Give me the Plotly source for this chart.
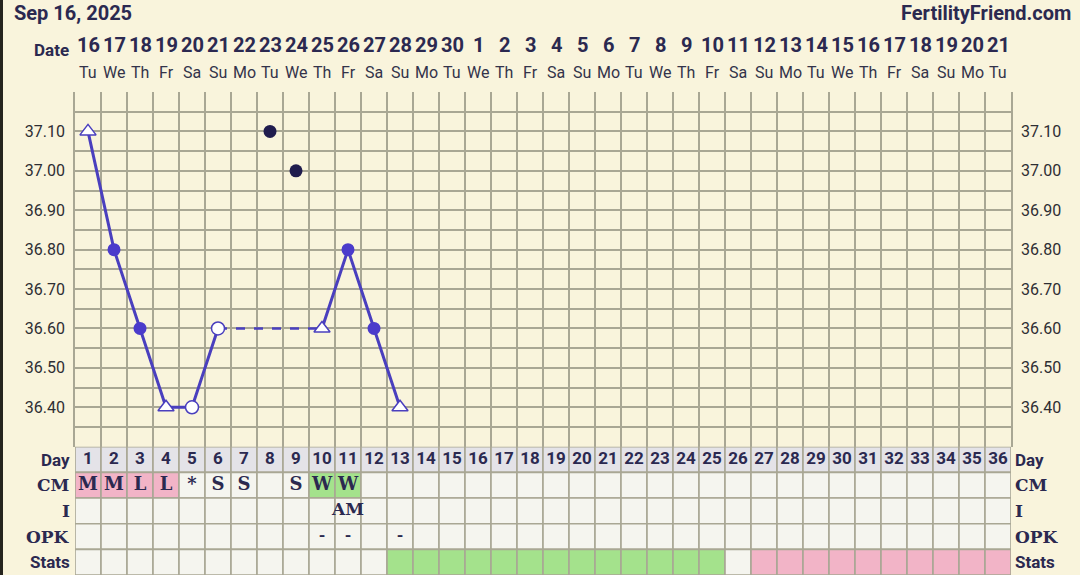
import plotly.graph_objects as go

W, H = 1080, 575

# ---------------- data ----------------
cycle_days = list(range(1, 37))
date_nums = ["16", "17", "18", "19", "20", "21", "22", "23", "24", "25", "26", "27",
             "28", "29", "30", "1", "2", "3", "4", "5", "6", "7", "8", "9", "10",
             "11", "12", "13", "14", "15", "16", "17", "18", "19", "20", "21"]
weekdays = ["Tu", "We", "Th", "Fr", "Sa", "Su", "Mo", "Tu", "We", "Th", "Fr", "Sa",
            "Su", "Mo", "Tu", "We", "Th", "Fr", "Sa", "Su", "Mo", "Tu", "We", "Th",
            "Fr", "Sa", "Su", "Mo", "Tu", "We", "Th", "Fr", "Sa", "Su", "Mo", "Tu"]

temp_days = [1, 2, 3, 4, 5, 6, 7, 8, 9, 10, 11, 12, 13]
temps = [37.10, 36.80, 36.60, 36.40, 36.40, 36.60, None, 37.10, 37.00, 36.60, 36.80, 36.60, 36.40]
temp_kind = ["open_tri", "filled", "filled", "open_tri", "open_circle", "open_circle", None,
             "discard", "discard", "open_tri", "filled", "filled", "open_tri"]

cm_codes = ["M", "M", "L", "L", "*", "S", "S", "", "S", "W", "W"] + [""] * 25
i_codes = [""] * 10 + ["AM"] + [""] * 25
opk_codes = [""] * 9 + ["-", "-", "", "-"] + [""] * 23
stats_codes = [""] * 12 + ["G"] * 13 + [""] + ["P"] * 10

y_tick_vals = [36.35, 36.40, 36.45, 36.50, 36.55, 36.60, 36.65, 36.70, 36.75, 36.80,
               36.85, 36.90, 36.95, 37.00, 37.05, 37.10, 37.15]
y_label_vals = [36.40, 36.50, 36.60, 36.70, 36.80, 36.90, 37.00, 37.10]
y_label_text = ["36.40", "36.50", "36.60", "36.70", "36.80", "36.90", "37.00", "37.10"]

# ---------------- style ----------------
BG = "#f9f4dc"
GRID = "#a9a794"
LINE = "#4a3fbe"
MARK = "#4b3bcb"
DISCARD = "#201c4e"
NAVY = "#2b2950"
TXT = "#33334a"
CELL = "#f5f5ef"
DAYROW = "#e4e3e8"
PINK = "#f2b4c7"
GREEN = "#a4e28c"
SANS = "Roboto"
SERIF = "DejaVu Serif"

X_DOM = [75 / W, 1011 / W]
SPLIT = 1 - 446.7 / H
T_DOM = [SPLIT, 1 - 92 / H]
TBL_DOM = [0, SPLIT]

fig = go.Figure()

# ---------------- temperature line ----------------
conn = [(d, t) for d, t, k in zip(temp_days, temps, temp_kind)
        if t is not None and k != "discard"]
solid_x, solid_y, dash_x, dash_y = [], [], [], []
run_x, run_y = [conn[0][0]], [conn[0][1]]
for (d0, t0), (d1, t1) in zip(conn[:-1], conn[1:]):
    if d1 - d0 == 1:
        run_x.append(d1)
        run_y.append(t1)
    else:
        solid_x += run_x + [None]
        solid_y += run_y + [None]
        dash_x += [d0, d1, None]
        dash_y += [t0, t1, None]
        run_x, run_y = [d1], [t1]
solid_x += run_x
solid_y += run_y

fig.add_trace(go.Scatter(x=dash_x, y=dash_y, mode="lines",
                         line=dict(color=LINE, width=2.5, dash="dash"),
                         hoverinfo="skip", showlegend=False))
fig.add_trace(go.Scatter(x=solid_x, y=solid_y, mode="lines",
                         line=dict(color=LINE, width=3),
                         hoverinfo="skip", showlegend=False))

styles = {
    "filled": dict(symbol="circle", size=13, color=MARK, line=dict(color=MARK, width=0)),
    "open_circle": dict(symbol="circle", size=13, color="white", line=dict(color=LINE, width=1.5)),
    "open_tri": dict(symbol="triangle-up", size=14, color="white", line=dict(color=LINE, width=1.5)),
    "discard": dict(symbol="circle", size=13, color=DISCARD, line=dict(color=DISCARD, width=0)),
}
for kind, st in styles.items():
    xs = [d for d, t, k in zip(temp_days, temps, temp_kind) if k == kind]
    ys = [t for d, t, k in zip(temp_days, temps, temp_kind) if k == kind]
    fig.add_trace(go.Scatter(x=xs, y=ys, mode="markers", marker=st,
                             hoverinfo="skip", showlegend=False))

# right axis carrier
fig.add_trace(go.Scatter(x=[None], y=[None], yaxis="y3", showlegend=False, hoverinfo="skip"))

# ---------------- table ----------------
rows = [("Day", 4, [str(d) for d in cycle_days], SANS, 17),
        ("CM", 3, cm_codes, SERIF, 18),
        ("I", 2, i_codes, SERIF, 17),
        ("OPK", 1, opk_codes, SANS, 17),
        ("Stats", 0, stats_codes, SANS, 16)]
fill_map = {"M": PINK, "L": PINK, "W": GREEN, "G": GREEN, "P": PINK}

shapes = []
for name, y0, codes, fam, fs in rows:
    for d, c in zip(cycle_days, codes):
        if name == "Day":
            fc = DAYROW
        elif name in ("CM", "Stats"):
            fc = fill_map.get(c, CELL)
        else:
            fc = CELL
        shapes.append(dict(type="rect", xref="x", yref="y2", x0=d - 0.5, x1=d + 0.5,
                           y0=y0, y1=y0 + 1, fillcolor=fc,
                           line=dict(color=GRID, width=1.6), layer="between"))
    if name != "Stats":
        fig.add_trace(go.Scatter(
            x=cycle_days, y=[y0 + 0.5] * len(cycle_days), yaxis="y2",
            text=codes, mode="text",
            textfont=dict(family=fam, size=fs, color=NAVY, weight="bold"),
            hoverinfo="skip", showlegend=False))

# dark strip at left edge
shapes.append(dict(type="rect", xref="paper", yref="paper", x0=0, x1=3 / W, y0=0, y1=1,
                   fillcolor="#25241e", line=dict(width=0), layer="above"))

annotations = []
label_fonts = {"Day": (SANS, 17), "CM": (SERIF, 17), "I": (SERIF, 17),
               "OPK": (SERIF, 17), "Stats": (SANS, 17)}
for name, y0, codes, fam, fs in rows:
    lf, ls = label_fonts[name]
    annotations.append(dict(text="<b>%s</b>" % name, xref="paper", yref="y2",
                            x=72 / W, y=y0 + 0.5, xanchor="right", yanchor="middle",
                            showarrow=False, font=dict(family=lf, size=ls, color=NAVY)))
    annotations.append(dict(text="<b>%s</b>" % name, xref="paper", yref="y2",
                            x=1013 / W, y=y0 + 0.5, xanchor="left", yanchor="middle",
                            showarrow=False, font=dict(family=lf, size=ls, color=NAVY)))

# date header
for d, n, wd in zip(cycle_days, date_nums, weekdays):
    annotations.append(dict(text="<b>%s</b>" % n, xref="x", yref="paper", x=d,
                            y=1 - 45 / H, xanchor="center", yanchor="middle",
                            showarrow=False, font=dict(family=SANS, size=20, color=NAVY)))
    annotations.append(dict(text=wd, xref="x", yref="paper", x=d,
                            y=1 - 72 / H, xanchor="center", yanchor="middle",
                            showarrow=False, font=dict(family=SANS, size=16, color=TXT)))
annotations.append(dict(text="<b>Date</b>", xref="paper", yref="paper", x=71 / W,
                        y=1 - 50 / H, xanchor="right", yanchor="middle", showarrow=False,
                        font=dict(family=SANS, size=17, color=NAVY)))
annotations.append(dict(text="<b>Sep 16, 2025</b>", xref="paper", yref="paper", x=12 / W,
                        y=1 - 13 / H, xanchor="left", yanchor="middle", showarrow=False,
                        font=dict(family=SANS, size=20, color=NAVY)))
annotations.append(dict(text="<b>FertilityFriend.com</b>", xref="paper", yref="paper",
                        x=1073 / W, y=1 - 13 / H, xanchor="right", yanchor="middle",
                        showarrow=False, font=dict(family=SANS, size=20, color=NAVY)))

y_text = [("%.2f" % v) if any(abs(v - u) < 1e-9 for u in y_label_vals) else ""
          for v in y_tick_vals]

fig.update_layout(
    width=W, height=575, autosize=False,
    margin=dict(l=0, r=0, t=0, b=0, pad=0),
    paper_bgcolor=BG, plot_bgcolor=BG,
    showlegend=False,
    shapes=shapes, annotations=annotations,
    xaxis=dict(domain=X_DOM, range=[0.5, 36.5], anchor="y",
               tickmode="array", tickvals=[d - 0.5 for d in cycle_days] + [36.5],
               showticklabels=False, ticks="", showgrid=True, gridcolor=GRID,
               gridwidth=1.6, zeroline=False, showline=False, fixedrange=True),
    yaxis=dict(domain=T_DOM, range=[36.30, 37.20], anchor="x",
               tickmode="array", tickvals=y_tick_vals, ticktext=y_text,
               showgrid=True, gridcolor=GRID, gridwidth=1.6, zeroline=False,
               showline=True, linecolor=GRID, linewidth=1.6, ticks="",
               ticklabelstandoff=5,
               tickfont=dict(family=SANS, size=16, color="#2e2e33"), fixedrange=True),
    yaxis3=dict(overlaying="y", side="right", range=[36.30, 37.20], anchor="x",
                tickmode="array", tickvals=y_label_vals, ticktext=y_label_text,
                showgrid=False, zeroline=False, showline=True, linecolor=GRID,
                linewidth=1.6, ticks="", ticklabelstandoff=5,
                tickfont=dict(family=SANS, size=16, color="#2e2e33"), fixedrange=True),
    yaxis2=dict(domain=TBL_DOM, range=[0, 5], anchor="x", visible=False,
                showgrid=False, zeroline=False, fixedrange=True),
)

fig.write_html("out.html", config={"displayModeBar": False},
               post_script="document.body.style.margin='0';document.body.style.overflow='hidden';")
